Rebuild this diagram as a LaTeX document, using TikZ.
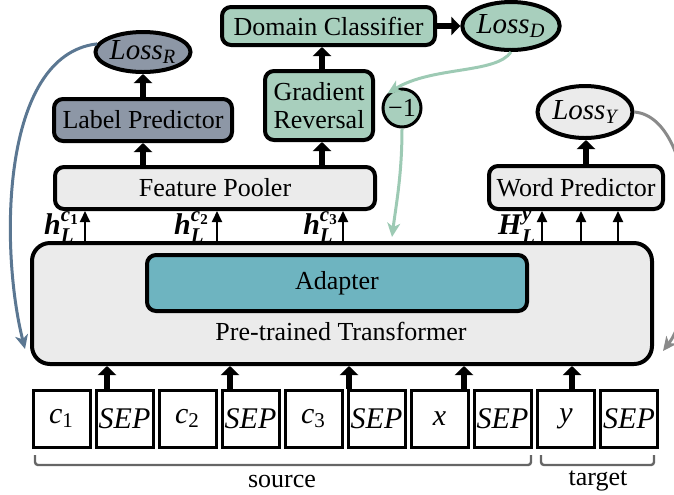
\documentclass[tikz,border=0pt]{standalone}
\usepackage{fontspec}
\usepackage{amsmath}
\setmainfont{LiberationSerif}[Extension=.ttf, UprightFont=*-Regular, ItalicFont=*-Italic, BoldFont=*-Bold, BoldItalicFont=*-BoldItalic]
\usetikzlibrary{arrows.meta,shapes.geometric,calc}
\definecolor{gfill}{HTML}{A8CFBD}
\definecolor{gline}{HTML}{9DCAB4}
\definecolor{sfill}{HTML}{8D97A6}
\definecolor{sline}{HTML}{5B7792}
\definecolor{lgray}{HTML}{EBEBEB}
\definecolor{afill}{HTML}{6EB4C0}
\definecolor{cgray}{HTML}{8A8A8A}
\definecolor{brgray}{HTML}{666666}
\newcommand{\bfi}[1]{\textbf{\textit{#1}}}
\tikzset{
  box/.style={draw, line width=2pt, rounded corners=4.5pt, inner sep=0pt, align=center},
  ell/.style={draw, line width=2pt, ellipse, inner sep=0pt, font=\fontsize{14.5}{16}\selectfont},
  tok/.style={draw, line width=1.5pt, minimum width=28.5pt, minimum height=28.5pt, inner sep=0pt, font=\fontsize{15}{17}\selectfont},
  tarr/.style={line width=3pt, -{Triangle[width=9pt,length=4.5pt]}},
  narr/.style={line width=1pt, -{Triangle[width=5pt,length=5.5pt]}},
  curv/.style={line width=1.5pt, -{Stealth[width=6.5pt,length=7pt,inset=2pt]}},
  brk/.style={draw=brgray, line width=1.2pt, rounded corners=1.5pt},
  hlab/.style={font=\fontsize{15}{17}\selectfont, inner sep=0pt},
}
\begin{document}
\begin{tikzpicture}[x=0.5pt, y=-0.5pt, font=\fontsize{13}{15}\selectfont]
\useasboundingbox (0,0) rectangle (674,494);

% transformer
\node[box, fill=lgray, rounded corners=9pt, minimum width=310pt, minimum height=60.5pt] (T) at (342,303.5) {};
\node[box, fill=afill, minimum width=190pt, minimum height=28pt] (A) at (337,283) {Adapter};
\node (PT) at (341,331) {Pre-trained Transformer};

% upper boxes
\node[box, fill=gfill, minimum width=106.5pt, minimum height=19pt] (DC) at (328.5,26) {Domain Classifier};
\node[ell, fill=gfill, minimum width=48.5pt, minimum height=24pt] (LD) at (511,26) {$\textit{Loss}_{\textit{D}}$};
\node[ell, fill=sfill, minimum width=47.5pt, minimum height=20pt] (LR) at (143,52) {$\textit{Loss}_{\textit{R}}$};
\node[box, fill=sfill, minimum width=89pt, minimum height=21pt] (LP) at (143,120) {Label Predictor};
\node[box, fill=gfill, minimum width=54pt, minimum height=34.5pt] (GR) at (319,105.5) {Gradient\\[-1pt]Reversal};
\node[box, fill=lgray, minimum width=160pt, minimum height=21pt] (FP) at (215,188) {Feature Pooler};
\node[draw, line width=1.5pt, circle, fill=gfill, minimum size=19pt, inner sep=0pt] (M) at (402,108) {−1};
\node[ell, fill=lgray, minimum width=47.5pt, minimum height=26pt] (LY) at (585,112) {$\textit{Loss}_{\textit{Y}}$};
\node[box, fill=lgray, minimum width=87pt, minimum height=21.5pt] (WP) at (576,187.5) {Word Predictor};

% tokens
\node[tok] (t1) at (61.5,418.5) {$\textit{c}_{\text{1}}$};
\node[tok] (t2) at (124.5,418.5) {\textit{SEP}};
\node[tok] (t3) at (187.5,418.5) {$\textit{c}_{\text{2}}$};
\node[tok] (t4) at (250.5,418.5) {\textit{SEP}};
\node[tok] (t5) at (313.5,418.5) {$\textit{c}_{\text{3}}$};
\node[tok] (t6) at (376.5,418.5) {\textit{SEP}};
\node[tok] (t7) at (439.5,418.5) {\textit{x}};
\node[tok] (t8) at (502.5,418.5) {\textit{SEP}};
\node[tok] (t9) at (566,418.5) {\textit{y}};
\node[tok] (t10) at (629,418.5) {\textit{SEP}};

% token arrows
\foreach \n/\xx in {t2/107, t4/230, t6/349, t7/464, t9/572}
  \draw[tarr] (\n.north -| \xx,0) -- (T.south -| \xx,0);

% thick arrows upper
\draw[tarr] (FP.north -| LP.south) -- (LP.south);
\draw[tarr] (LP.north) -- (LR.south);
\draw[tarr] (FP.north -| 322,0) -- (GR.south -| 322,0);
\draw[tarr] (GR.north -| 322,0) -- (DC.south -| 322,0);
\draw[tarr] (DC.east) -- (LD.west);
\draw[tarr] (WP.north -| 586,0) -- (LY.south -| 586,0);

% h arrows
\foreach \xx in {85,217,343}
  \draw[narr] (T.north -| \xx,0) -- (FP.south -| \xx,0);
\foreach \xx in {542,581,618}
  \draw[narr] (T.north -| \xx,0) -- (WP.south -| \xx,0);

\node[hlab] (h1) at (62,227) {$\bfi{h}_{\bfi{L}}^{\bfi{c}_{\textbf{1}}}$};
\node[hlab] (h2) at (192,227) {$\bfi{h}_{\bfi{L}}^{\bfi{c}_{\textbf{2}}}$};
\node[hlab] (h3) at (321,227) {$\bfi{h}_{\bfi{L}}^{\bfi{c}_{\textbf{3}}}$};
\node[hlab] (hy) at (517,227) {$\bfi{H}_{\bfi{L}}^{\bfi{y}}$};

% curves
\coordinate (gtip) at (392,237);
\draw[curv, draw=gline, color=gline] (LD.south) .. controls (496,74) and (432,66) .. (M.north west);
\draw[curv, draw=gline, color=gline] (M.south) .. controls (402,175) and (396,205) .. (gtip);
\coordinate (btip) at (25,349);
\draw[curv, draw=sline, color=sline] (LR.170) .. controls (0,55) and (0,250) .. (btip);
\coordinate (ctip) at (663,351);
\draw[curv, draw=cgray, color=cgray] (LY.east) .. controls (700,118) and (702,300) .. (ctip);

% brackets
\coordinate (s1) at (35,455); \coordinate (s2) at (531,455);
\coordinate (g1) at (541,455); \coordinate (g2) at (654,455);
\draw[brk] (s1) -- ++(0,10) -| (s2);
\draw[brk] (g1) -- ++(0,10) -| (g2);
\node (src) at (282,481) {source};
\node (tgt) at (598,481) {target};
\end{tikzpicture}
\end{document}
